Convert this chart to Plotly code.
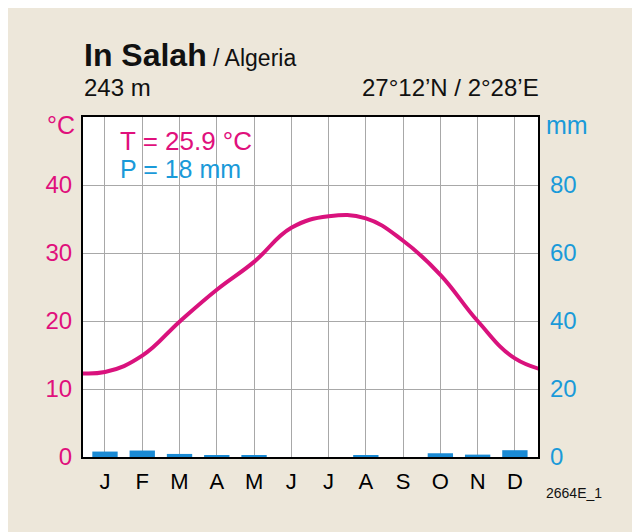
import plotly.graph_objects as go

months = ["J", "F", "M", "A", "M", "J", "J", "A", "S", "O", "N", "D"]
temp = [12.5, 14.9, 19.9, 24.6, 28.7, 33.7, 35.4, 35.1, 31.8, 26.8, 20.0, 14.5]
precip = [1.6, 1.9, 0.9, 0.5, 0.5, 0.0, 0.0, 0.5, 0.0, 1.1, 0.7, 2.0]
t_ticks = [0, 10, 20, 30, 40]
p_ticks = [0, 20, 40, 60, 80]

PINK = "#e0107c"
BLUE = "#1a9ad9"
BAR = "#1a8ad4"
BG = "#ede7da"
FONT = "Liberation Sans, Arial, sans-serif"

# page body margin shifts the figure by 8px in the screenshot
OFF = 8
# plot area in screenshot pixels (left, right, top, bottom)
L, R, T, B = 83, 538, 117, 457
W, H = 640, 532


def px(x):
    return (x - L) / (R - L)


def py(y):
    return (B - y) / (B - T)


xs = list(range(12))
# pad both ends with the January value so the curve runs to the edges
x_line = [-1] + xs + [12]
t_line = [temp[0]] + temp + [temp[0]]

fig = go.Figure()
fig.add_trace(go.Scatter(x=x_line, y=t_line, mode="lines",
                         line=dict(color="#d9127d", width=4, shape="spline", smoothing=1.2),
                         yaxis="y", hoverinfo="skip"))
fig.add_trace(go.Bar(x=xs, y=precip, width=0.68, marker=dict(color=BAR, line=dict(width=0)),
                     yaxis="y2"))

fig.update_layout(
    width=W, height=H,
    margin=dict(l=L - OFF, r=W - R + OFF, t=T - OFF, b=H - B + OFF, pad=0),
    paper_bgcolor=BG, plot_bgcolor="white",
    showlegend=False,
    font=dict(family=FONT, color="black"),
    xaxis=dict(range=[-0.59, 11.62], tickvals=xs, ticktext=months,
               showgrid=True, gridcolor="#a8a8a8", gridwidth=1,
               showline=True, linecolor="black", linewidth=2, mirror=True,
               ticks="", ticklabelstandoff=4, tickfont=dict(size=22, color="black"),
               zeroline=False),
    yaxis=dict(range=[0, 50], tickvals=t_ticks,
               showgrid=True, gridcolor="#a8a8a8", gridwidth=1,
               showline=True, linecolor="black", linewidth=2, mirror=True,
               ticks="", ticklabelstandoff=4, tickfont=dict(size=24, color=PINK),
               zeroline=False),
    yaxis2=dict(range=[0, 100], tickvals=p_ticks, overlaying="y", side="right",
                showgrid=False, showline=False, zeroline=False,
                ticks="", ticklabelstandoff=11, tickfont=dict(size=24, color=BLUE)),
)

ann = [
    dict(x=px(82), y=py(55), text="<b>In Salah</b><span style='font-size:23px'> / Algeria</span>",
         xanchor="left", font=dict(size=32, color="#111")),
    dict(x=px(82), y=py(87), text="243 m", xanchor="left", font=dict(size=24, color="#111")),
    dict(x=px(541), y=py(87), text="27°12’N / 2°28’E", xanchor="right",
         font=dict(size=24, color="#111")),
    dict(x=px(77), y=py(125), text="°C", xanchor="right", font=dict(size=25, color=PINK)),
    dict(x=px(544), y=py(125), text="mm", xanchor="left", font=dict(size=25, color=BLUE)),
    dict(x=px(118), y=py(141), text="T = 25.9 °C", xanchor="left", font=dict(size=26, color=PINK)),
    dict(x=px(118), y=py(169), text="P = 18 mm", xanchor="left", font=dict(size=25, color=BLUE)),
    dict(x=px(544), y=py(493), text="2664E_1", xanchor="left", font=dict(size=14, color="#111")),
]
for a in ann:
    a.update(xref="paper", yref="paper", yanchor="middle", showarrow=False)
fig.update_layout(annotations=ann)

fig.write_html("out.html")
